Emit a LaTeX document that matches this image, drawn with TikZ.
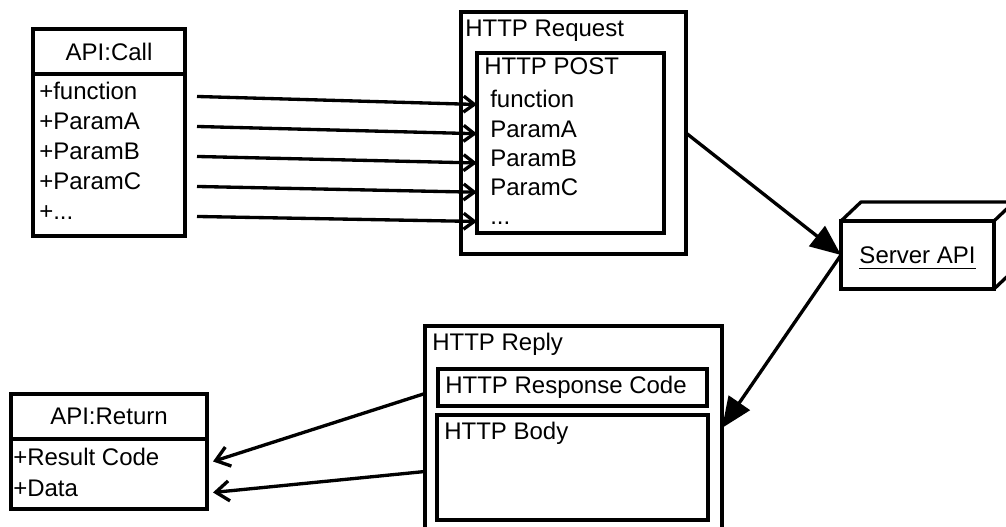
\documentclass[tikz,border=0pt]{standalone}
\usepackage{fontspec}
\setmainfont{Liberation Sans}
\usetikzlibrary{positioning,arrows.meta,calc}

\newcommand{\moredots}{...}
\tikzset{
  box/.style={draw, line width=2.5pt, inner sep=0pt, outer sep=0pt},
  txt/.style={inner sep=0pt, anchor=base west},
  fieldarrow/.style={line width=2.5pt, -{Straight Barb[length=8pt,width=12pt]}},
  retarrow/.style={line width=2.5pt, -{Straight Barb[length=10pt,width=15pt]}},
  bigarrow/.style={line width=2.5pt, -{Triangle[length=23pt,width=19pt]}},
}

\begin{document}
\begin{tikzpicture}[x=.75pt,y=-.75pt,font=\fontsize{18pt}{21pt}\selectfont]
  \useasboundingbox (0,0) rectangle (1006,527);
  \clip (0,0) rectangle (1006,527);

  % API:Call
  \node[box, minimum width=114pt, minimum height=33.75pt, anchor=north west] (callhead) at (33,29) {API:Call};
  \node[box, minimum width=114pt, minimum height=121.5pt, below=0pt of callhead] (callbody) {};
  \foreach \f [count=\i] in {+function,+ParamA,+ParamB,+ParamC,+\moredots}
    \node[txt] (cf\i) at (39,70+30*\i) {\f};

  % HTTP request
  \node[box, minimum width=168.75pt, minimum height=181.5pt, anchor=north west] (req) at (461,12) {};
  \node[txt] (reqlbl) at (465,37) {HTTP Request};
  \node[box, minimum width=140.25pt, minimum height=135pt, anchor=north west] (post) at (477,53) {};
  \node[txt] (postlbl) at (484,75) {HTTP POST};
  \foreach \f [count=\i] in {function,ParamA,ParamB,ParamC,\moredots}
    \node[txt] (pf\i) at (490,78.75+29.25*\i) {\f};
  \foreach \i in {1,...,5}
    \draw[fieldarrow] ($(callbody.east |- cf\i.mid)+(12,0)$) -- (post.west |- pf\i.mid);

  % server
  \node[box, minimum width=114.75pt, minimum height=51pt, anchor=north west] (srv) at (841,221) {};
  \draw[line width=2.5pt, line join=round] (srv.north west) -- ++(20,-19) -- ++(153,0) -- ++(0,68) -- (srv.south east)
    (srv.north east) -- ++(20,-19);
  \node[txt, anchor=center] (srvlbl) at (srv) {Server API};
  \draw[line width=1.2pt] ([yshift=-4pt]srvlbl.base west) -- ([yshift=-4pt]srvlbl.base east);
  \draw[bigarrow] (req.east) -- (srv.west);

  % HTTP reply
  \node[box, minimum width=222.75pt, minimum height=153pt, anchor=north west] (reply) at (425,326) {};
  \node[txt] (replylbl) at (432,350) {HTTP Reply};
  \node[box, minimum width=201.75pt, minimum height=27.75pt, anchor=north west] (rcode) at (438,369) {};
  \node[txt] (rcodelbl) at (445,393) {HTTP Response Code};
  \node[box, minimum width=203.25pt, minimum height=78.75pt, anchor=north west] (body) at (437,415) {};
  \node[txt] (bodylbl) at (444,439) {HTTP Body};
  \draw[bigarrow] (srv.west) -- (reply.east);

  % API:Return
  \node[box, minimum width=147pt, minimum height=33.75pt, anchor=north west] (rethead) at (11,394) {API:Return};
  \node[box, minimum width=147pt, minimum height=52.5pt, below=0pt of rethead] (retbody) {};
  \node[txt] (rf1) at (13,465) {+Result Code};
  \node[txt] (rf2) at (13,496) {+Data};
  \draw[retarrow] ($(reply.west |- rcode)+(0,6)$) -- ($(retbody.east |- rf1.mid)+(6,0)$);
  \draw[retarrow] ($(reply.west |- body)+(0,4)$) -- ($(retbody.east |- rf2.mid)+(6,0)$);
\end{tikzpicture}
\end{document}
